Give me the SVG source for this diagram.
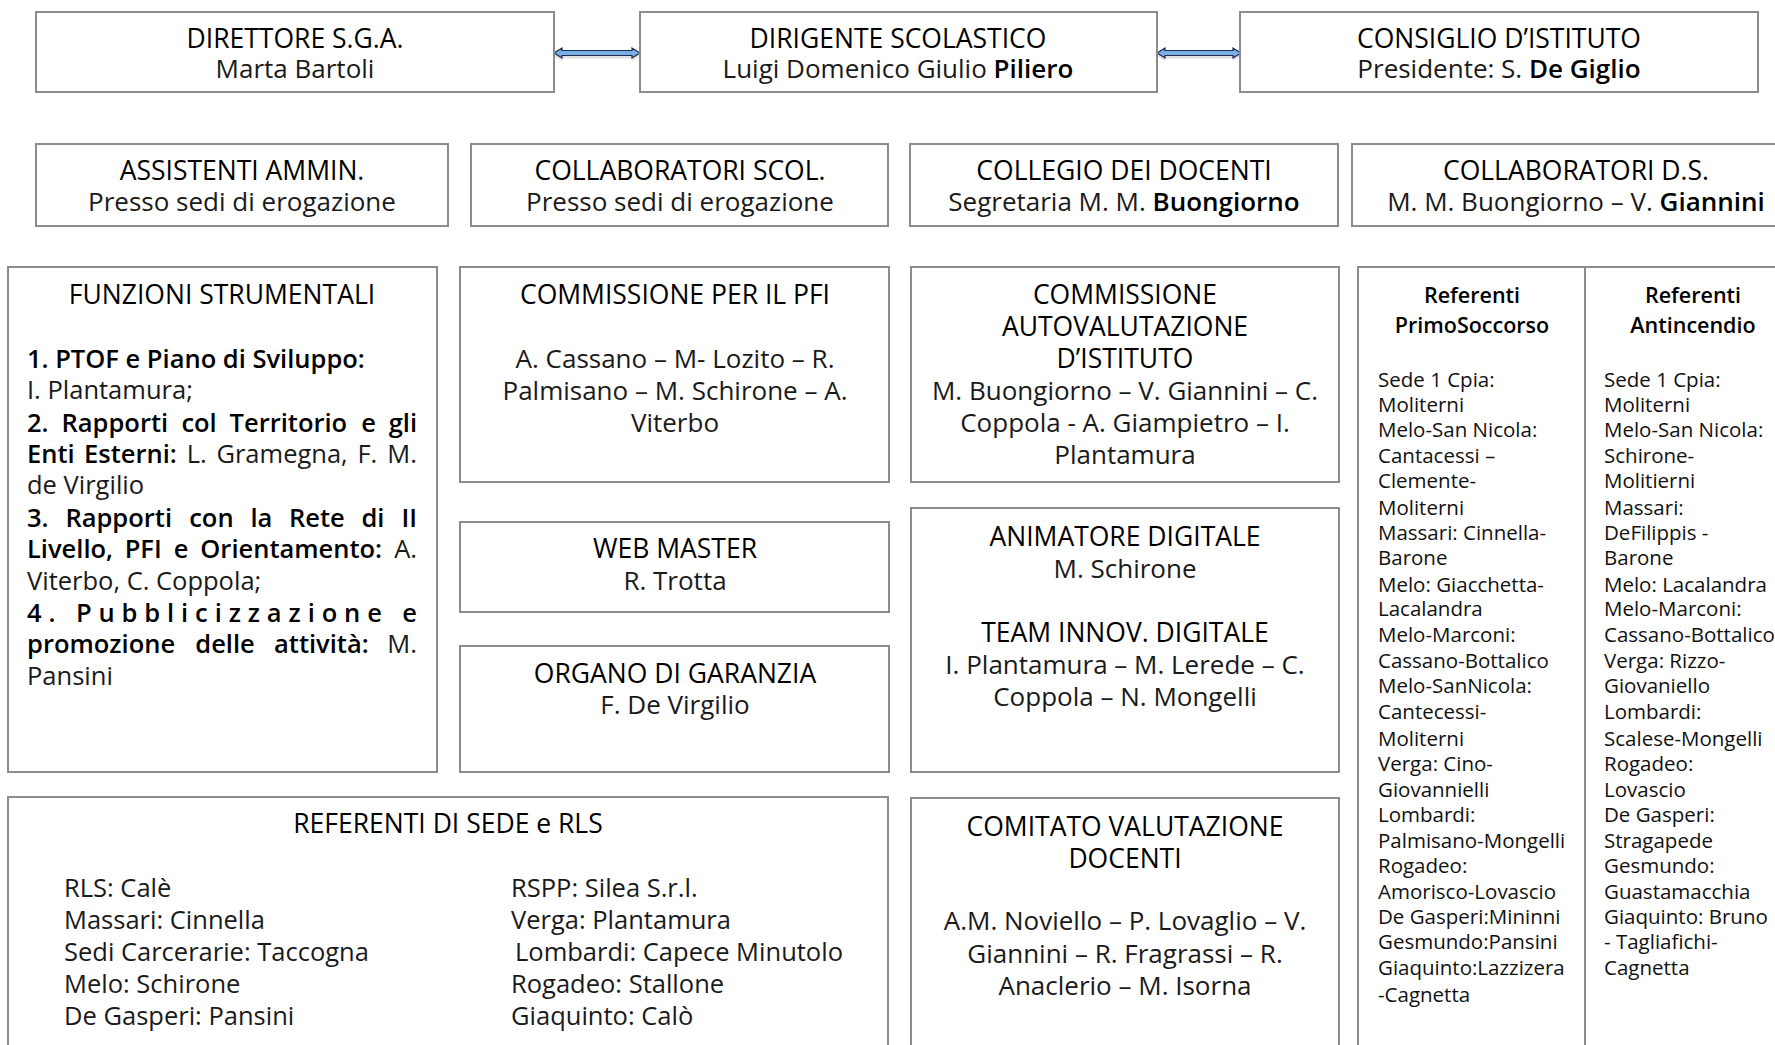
<svg xmlns="http://www.w3.org/2000/svg" width="1775" height="1045" viewBox="0 0 1775 1045">
<defs>
<style>
.box{fill:#fff;stroke:#8c8c8c;stroke-width:2}
.h{font-family:'Open Sans','Noto Sans','DejaVu Sans',sans-serif;font-size:26.5px;fill:#000;text-anchor:middle}
.s{font-family:'Open Sans','Noto Sans','DejaVu Sans',sans-serif;font-size:26px;fill:#1a1a1a;text-anchor:middle}
.l{font-family:'Open Sans','Noto Sans','DejaVu Sans',sans-serif;font-size:25.5px;fill:#1a1a1a}
.k{font-weight:600;fill:#000}
.e{text-anchor:end}
.th{font-family:'Open Sans','Noto Sans','DejaVu Sans',sans-serif;font-size:21.5px;font-weight:600;fill:#000;text-anchor:middle}
.tb{font-family:'Open Sans','Noto Sans','DejaVu Sans',sans-serif;font-size:20.5px;fill:#111}
.arr{fill:#79aee9;stroke:#1d2c4a;stroke-width:1.2}
.sh{fill:#000;opacity:0.12}
</style>
</defs>

<g id="connectors">
<polygon class="sh" points="554,56 562,51 562,53.5 632,53.5 632,51 640,56 632,61 632,58.5 562,58.5 562,61"/>
<polygon class="arr" points="554,53 562,48 562,50.5 632,50.5 632,48 640,53 632,58 632,55.5 562,55.5 562,58"/>
<polygon class="sh" points="1157,56 1165,51 1165,53.5 1233,53.5 1233,51 1241,56 1233,61 1233,58.5 1165,58.5 1165,61"/>
<polygon class="arr" points="1157,53 1165,48 1165,50.5 1233,50.5 1233,48 1241,53 1233,58 1233,55.5 1165,55.5 1165,58"/>
</g>

<g id="direttore">
<rect class="box" x="36" y="12" width="518" height="80"/>
<text class="h" x="295" y="48">DIRETTORE S.G.A.</text>
<text class="s" x="295" y="78">Marta Bartoli</text>
</g>
<g id="dirigente">
<rect class="box" x="640" y="12" width="517" height="80"/>
<text class="h" x="898" y="48">DIRIGENTE SCOLASTICO</text>
<text class="s" x="898" y="78">Luigi Domenico Giulio <tspan class="k">Piliero</tspan></text>
</g>
<g id="consiglio">
<rect class="box" x="1240" y="12" width="518" height="80"/>
<text class="h" x="1499" y="48">CONSIGLIO D’ISTITUTO</text>
<text class="s" x="1499" y="78">Presidente: S. <tspan class="k">De Giglio</tspan></text>
</g>

<g id="assistenti">
<rect class="box" x="36" y="144" width="412" height="82"/>
<text class="h" x="242" y="180">ASSISTENTI AMMIN.</text>
<text class="s" x="242" y="211">Presso sedi di erogazione</text>
</g>
<g id="collab-scol">
<rect class="box" x="471" y="144" width="417" height="82"/>
<text class="h" x="680" y="180">COLLABORATORI SCOL.</text>
<text class="s" x="680" y="211">Presso sedi di erogazione</text>
</g>
<g id="collegio">
<rect class="box" x="910" y="144" width="428" height="82"/>
<text class="h" x="1124" y="180">COLLEGIO DEI DOCENTI</text>
<text class="s" x="1124" y="211">Segretaria M. M. <tspan class="k">Buongiorno</tspan></text>
</g>
<g id="collab-ds">
<rect class="box" x="1352" y="144" width="450" height="82"/>
<text class="h" x="1576" y="180">COLLABORATORI D.S.</text>
<text class="s" x="1576" y="211">M. M. Buongiorno – V. <tspan class="k">Giannini</tspan></text>
</g>

<g id="funzioni">
<rect class="box" x="8" y="267" width="429" height="505"/>
<text class="h" x="222" y="304">FUNZIONI STRUMENTALI</text>
<text class="l k" x="27" y="368">1. PTOF e Piano di Sviluppo:</text>
<text class="l" x="27" y="399">I. Plantamura;</text>
<g class="l k">
<text x="27" y="432">2.</text><text x="61.5" y="432">Rapporti</text><text x="181.4" y="432">col</text><text x="229.6" y="432">Territorio</text><text x="361.2" y="432">e</text><text class="e" x="417" y="432">gli</text>
<text x="27" y="463">Enti</text><text x="84" y="463">Esterni:</text>
</g>
<g class="l">
<text x="186.7" y="463">L.</text><text x="216.4" y="463">Gramegna,</text><text x="357.4" y="463">F.</text><text class="e" x="417" y="463">M.</text>
<text x="27" y="494">de Virgilio</text>
</g>
<g class="l k">
<text x="27" y="527">3.</text><text x="65.4" y="527">Rapporti</text><text x="189.2" y="527">con</text><text x="250.4" y="527">la</text><text x="289" y="527">Rete</text><text x="361.4" y="527">di</text><text class="e" x="417" y="527">II</text>
<text x="27" y="558">Livello,</text><text x="124.7" y="558">PFI</text><text x="173.8" y="558">e</text><text x="200.3" y="558">Orientamento:</text>
</g>
<text class="l e" x="417" y="558">A.</text>
<text class="l" x="27" y="590">Viterbo, C. Coppola;</text>
<text class="l k" x="27" y="622" textLength="390" lengthAdjust="spacing">4. Pubblicizzazione e</text>
<g class="l k">
<text x="27" y="653">promozione</text><text x="195.3" y="653">delle</text><text x="274" y="653">attività:</text>
</g>
<text class="l e" x="417" y="653">M.</text>
<text class="l" x="27" y="685">Pansini</text>
</g>

<g id="commissione-pfi">
<rect class="box" x="460" y="267" width="429" height="215"/>
<text class="h" x="675" y="304">COMMISSIONE PER IL PFI</text>
<text class="s" x="675" y="368">A. Cassano – M- Lozito – R.</text>
<text class="s" x="675" y="400">Palmisano – M. Schirone – A.</text>
<text class="s" x="675" y="432">Viterbo</text>
</g>
<g id="web-master">
<rect class="box" x="460" y="522" width="429" height="90"/>
<text class="h" x="675" y="558">WEB MASTER</text>
<text class="s" x="675" y="590">R. Trotta</text>
</g>
<g id="organo">
<rect class="box" x="460" y="646" width="429" height="126"/>
<text class="h" x="675" y="683">ORGANO DI GARANZIA</text>
<text class="s" x="675" y="714">F. De Virgilio</text>
</g>

<g id="autovalutazione">
<rect class="box" x="911" y="267" width="428" height="215"/>
<text class="h" x="1125" y="304">COMMISSIONE</text>
<text class="h" x="1125" y="336">AUTOVALUTAZIONE</text>
<text class="h" x="1125" y="368">D’ISTITUTO</text>
<text class="s" x="1125" y="400">M. Buongiorno – V. Giannini – C.</text>
<text class="s" x="1125" y="432">Coppola - A. Giampietro – I.</text>
<text class="s" x="1125" y="464">Plantamura</text>
</g>
<g id="animatore">
<rect class="box" x="911" y="508" width="428" height="264"/>
<text class="h" x="1125" y="546">ANIMATORE DIGITALE</text>
<text class="s" x="1125" y="578">M. Schirone</text>
<text class="h" x="1125" y="642">TEAM INNOV. DIGITALE</text>
<text class="s" x="1125" y="674">I. Plantamura – M. Lerede – C.</text>
<text class="s" x="1125" y="706">Coppola – N. Mongelli</text>
</g>

<g id="referenti-sede">
<rect class="box" x="8" y="797" width="880" height="260"/>
<text class="h" x="448" y="833">REFERENTI DI SEDE e RLS</text>
<g class="l">
<text x="64" y="897">RLS: Calè</text>
<text x="64" y="929">Massari: Cinnella</text>
<text x="64" y="961">Sedi Carcerarie: Taccogna</text>
<text x="64" y="993">Melo: Schirone</text>
<text x="64" y="1025">De Gasperi: Pansini</text>
<text x="511" y="897">RSPP: Silea S.r.l.</text>
<text x="511" y="929">Verga: Plantamura</text>
<text x="515" y="961">Lombardi: Capece Minutolo</text>
<text x="511" y="993">Rogadeo: Stallone</text>
<text x="511" y="1025">Giaquinto: Calò</text>
</g>
</g>

<g id="comitato">
<rect class="box" x="911" y="798" width="428" height="260"/>
<text class="h" x="1125" y="836">COMITATO VALUTAZIONE</text>
<text class="h" x="1125" y="868">DOCENTI</text>
<text class="s" x="1125" y="930">A.M. Noviello – P. Lovaglio – V.</text>
<text class="s" x="1125" y="963">Giannini – R. Fragrassi – R.</text>
<text class="s" x="1125" y="995">Anaclerio – M. Isorna</text>
</g>

<g id="referenti-primo-soccorso">
<rect class="box" x="1358" y="267" width="227" height="790"/>
<text class="th" x="1472" y="303">Referenti</text>
<text class="th" x="1472" y="333">PrimoSoccorso</text>
<g class="tb">
<text x="1378" y="387">Sede 1 Cpia:</text>
<text x="1378" y="412">Moliterni</text>
<text x="1378" y="437">Melo-San Nicola:</text>
<text x="1378" y="463">Cantacessi –</text>
<text x="1378" y="488">Clemente-</text>
<text x="1378" y="515">Moliterni</text>
<text x="1378" y="540">Massari: Cinnella-</text>
<text x="1378" y="565">Barone</text>
<text x="1378" y="592">Melo: Giacchetta-</text>
<text x="1378" y="616">Lacalandra</text>
<text x="1378" y="642">Melo-Marconi:</text>
<text x="1378" y="668">Cassano-Bottalico</text>
<text x="1378" y="693">Melo-SanNicola:</text>
<text x="1378" y="719">Cantecessi-</text>
<text x="1378" y="746">Moliterni</text>
<text x="1378" y="771">Verga: Cino-</text>
<text x="1378" y="797">Giovannielli</text>
<text x="1378" y="822">Lombardi:</text>
<text x="1378" y="848">Palmisano-Mongelli</text>
<text x="1378" y="873">Rogadeo:</text>
<text x="1378" y="899">Amorisco-Lovascio</text>
<text x="1378" y="924">De Gasperi:Mininni</text>
<text x="1378" y="949">Gesmundo:Pansini</text>
<text x="1378" y="975">Giaquinto:Lazzizera</text>
<text x="1378" y="1002">-Cagnetta</text>
</g>
</g>

<g id="referenti-antincendio">
<rect class="box" x="1585" y="267" width="220" height="790"/>
<text class="th" x="1693" y="303">Referenti</text>
<text class="th" x="1693" y="333">Antincendio</text>
<g class="tb">
<text x="1604" y="387">Sede 1 Cpia:</text>
<text x="1604" y="412">Moliterni</text>
<text x="1604" y="437">Melo-San Nicola:</text>
<text x="1604" y="463">Schirone-</text>
<text x="1604" y="488">Molitierni</text>
<text x="1604" y="515">Massari:</text>
<text x="1604" y="540">DeFilippis -</text>
<text x="1604" y="565">Barone</text>
<text x="1604" y="592">Melo: Lacalandra</text>
<text x="1604" y="616">Melo-Marconi:</text>
<text x="1604" y="642">Cassano-Bottalico</text>
<text x="1604" y="668">Verga: Rizzo-</text>
<text x="1604" y="693">Giovaniello</text>
<text x="1604" y="719">Lombardi:</text>
<text x="1604" y="746">Scalese-Mongelli</text>
<text x="1604" y="771">Rogadeo:</text>
<text x="1604" y="797">Lovascio</text>
<text x="1604" y="822">De Gasperi:</text>
<text x="1604" y="848">Stragapede</text>
<text x="1604" y="873">Gesmundo:</text>
<text x="1604" y="899">Guastamacchia</text>
<text x="1604" y="924">Giaquinto: Bruno</text>
<text x="1604" y="949">- Tagliafichi-</text>
<text x="1604" y="975">Cagnetta</text>
</g>
</g>
</svg>
